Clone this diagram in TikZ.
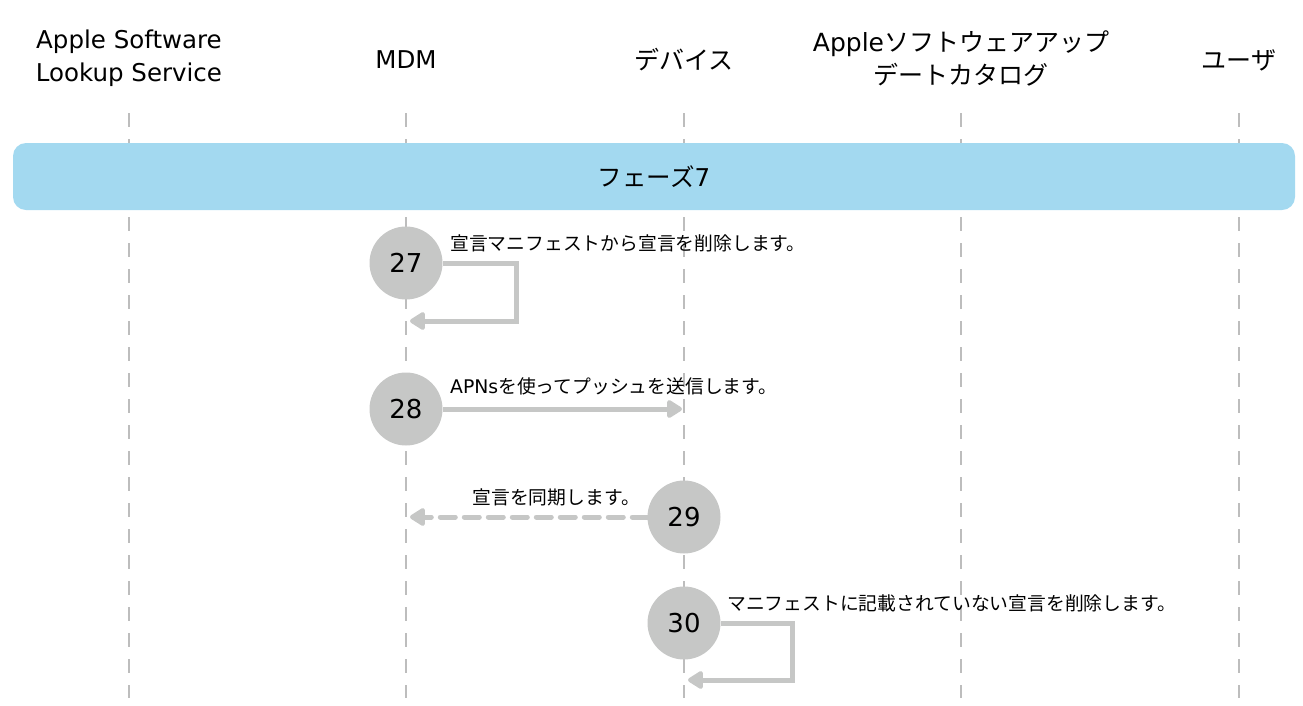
\documentclass[tikz,border=0pt]{standalone}
\usepackage{fontspec}
\setmainfont{Noto Sans CJK JP}
\newfontfamily\latfont{DejaVu Sans}
\newcommand{\lat}[1]{{\latfont #1}}
\usetikzlibrary{arrows.meta}

\definecolor{bandblue}{HTML}{A3D9F0}
\definecolor{stepgray}{HTML}{C6C7C6}
\definecolor{linegray}{HTML}{BDBDBD}

\tikzset{
  actor/.style = {align=center, font=\fontsize{25}{33}\selectfont},
  latactor/.style = {actor, font=\latfont\fontsize{24.5}{33}\selectfont},
  lifeline/.style = {linegray, line width=1.4pt, dash pattern=on 14pt off 12pt},
  stepnum/.style = {circle, fill=stepgray, minimum size=73pt, inner sep=0pt,
                    font=\latfont\fontsize{26}{26}\selectfont},
  flow/.style = {stepgray, line width=5pt, -{Triangle[round,length=17pt,width=20pt]}},
  msg/.style = {font=\fontsize{18.8}{20}\selectfont, inner sep=0pt}
}

\begin{document}
\begin{tikzpicture}[x=1pt, y=-1pt]
    \useasboundingbox (0,0) rectangle (1303,705);

    % actors and their lifelines
    \node[latactor] (lookup) at (129,58) {Apple Software\\Lookup Service};
    \node[latactor] (mdm) at (406,60) {MDM};
    \node[actor] (device) at (684,60) {デバイス};
    \node[actor] (catalog) at (961,58) {\lat{Apple}ソフトウェアアップ\\デートカタログ};
    \node[actor] (user) at (1239,60) {ユーザ};
    \foreach \x in {129,406,684,961,1239}
        \draw[lifeline] (\x,113) -- (\x,698);

    % phase band
    \fill[bandblue, rounded corners=13pt] (13,143) rectangle (1295,210);
    \node[font=\fontsize{24.5}{24}\selectfont] (phase) at (654,177) {フェーズ\lat{7}};

    % step 27
    \node[stepnum] (s27) at (406,263) {27};
    \node[msg, anchor=west] (m27) at (450,243) {宣言マニフェストから宣言を削除します。};
    \coordinate (t27) at (410,321);
    \draw[flow] (s27.east) -- (516,263) |- (t27);

    % step 28
    \node[stepnum] (s28) at (406,409) {28};
    \node[msg, anchor=west] (m28) at (450,386) {\lat{APNs}を使ってプッシュを送信します。};
    \coordinate (t28) at (682,409);
    \draw[flow] (s28.east) -- (t28);

    % step 29
    \node[stepnum] (s29) at (684,517) {29};
    \node[msg, anchor=east] (m29) at (640,497) {宣言を同期します。};
    \coordinate (t29) at (410,517);
    \draw[flow, dash pattern=on 15pt off 9pt, line cap=round] (s29.west) -- (t29);

    % step 30
    \node[stepnum] (s30) at (684,623) {30};
    \node[msg, anchor=west] (m30) at (727,603) {マニフェストに記載されていない宣言を削除します。};
    \coordinate (t30) at (688,680);
    \draw[flow] (s30.east) -- (792,623) |- (t30);
\end{tikzpicture}
\end{document}
